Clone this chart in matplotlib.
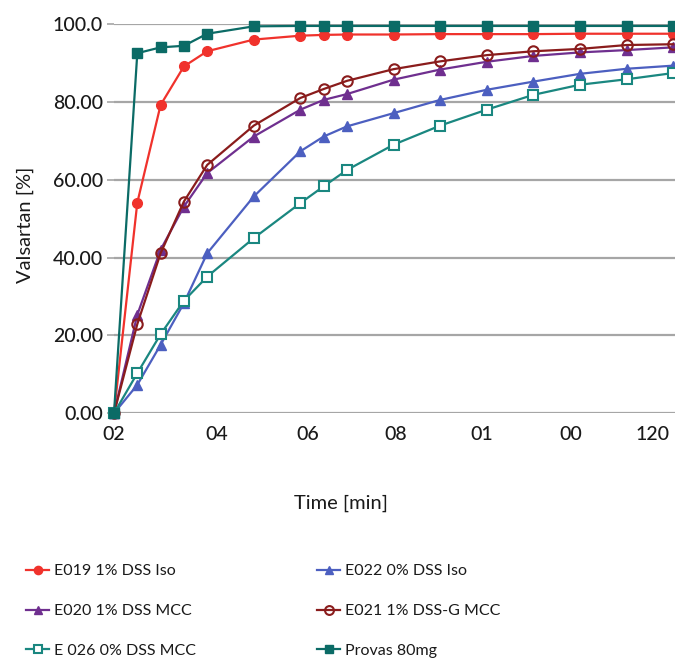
import matplotlib
matplotlib.use("Agg")
import matplotlib.pyplot as plt

time_min = [0, 5, 10, 15, 20, 30, 40, 45, 50, 60, 70, 80, 90, 100, 110, 120]

e019 = [0, 54.1, 79.2, 89.1, 93.0, 96.0, 97.0, 97.2, 97.3, 97.3, 97.4, 97.4, 97.4, 97.5, 97.5, 97.5]
e022 = [0, 7.3, 17.6, 28.3, 41.1, 55.7, 67.3, 71.1, 73.7, 77.1, 80.5, 83.1, 85.2, 87.2, 88.5, 89.3]
e020 = [0, 25.3, 42.0, 53.1, 61.7, 71.1, 78.0, 80.5, 82.0, 85.7, 88.3, 90.3, 91.8, 92.7, 93.3, 94.0]
e021 = [0, 22.9, 41.1, 54.4, 63.8, 73.9, 81.0, 83.3, 85.4, 88.4, 90.4, 92.0, 93.0, 93.6, 94.6, 94.8]
e026 = [0, 10.3, 20.3, 28.9, 35.1, 45.0, 54.0, 58.3, 62.5, 69.0, 73.9, 78.0, 81.8, 84.4, 85.8, 87.4]
provas = [0, 92.5, 94.0, 94.4, 97.5, 99.4, 99.5, 99.5, 99.5, 99.5, 99.5, 99.5, 99.5, 99.5, 99.5, 99.5]

series_labels = ["E019 1% DSS Iso", "E022 0% DSS Iso", "E020 1% DSS MCC",
                 "E021 1% DSS-G MCC", "E 026 0% DSS MCC", "Provas 80mg"]

y_ticks = [0, 20, 40, 60, 80, 100]
y_tick_labels = ["0.00", "20.00", "40.00", "60.00", "80.00", "100.0"]
x_tick_pos = [0, 22, 41.5, 60.5, 79, 98, 115.5]
x_tick_labels = ["02", "04", "06", "08", "01", "00", "120"]

FONT = ["Lato", "DejaVu Sans"]
plt.rcParams['font.family'] = FONT

W, H = 675, 658
fig = plt.figure(figsize=(W / 100, H / 100), dpi=100)
x0, x1 = 114, 675
y0, y1 = 413.3, 24
ax = fig.add_axes([x0 / W, 1 - y0 / H, (x1 - x0) / W, (y0 - y1) / H])

lw = 1.6
h_e019, = ax.plot(time_min, e019, color="#f0322c", marker="o", ms=7, lw=lw, clip_on=False, zorder=3)
h_e022, = ax.plot(time_min, e022, color="#4c5fc0", marker="^", ms=7, lw=lw, clip_on=False, zorder=3)
h_e020, = ax.plot(time_min, e020, color="#6f2f8f", marker="^", ms=7, lw=lw, clip_on=False, zorder=3)
h_e021, = ax.plot(time_min, e021, color="#8a1c1c", marker="o", ms=7.5, mfc="none", mew=1.5, lw=lw, clip_on=False, zorder=3)
h_e026, = ax.plot(time_min, e026, color="#1a8780", marker="s", ms=7, mfc="white", mew=1.5, lw=lw, clip_on=False, zorder=3)
h_prov, = ax.plot(time_min, provas, color="#0b6b66", marker="s", ms=7.2, lw=lw, clip_on=False, zorder=4)

ax.set_xlim(0, 120.4)
ax.set_ylim(0, 100)
for s in ax.spines.values():
    s.set_visible(False)
ax.yaxis.grid(True, color="#a6a6a6", lw=1.6)
ax.set_axisbelow(True)
ax.set_yticks(y_ticks)
ax.set_yticklabels(y_tick_labels, fontsize=14, color="#1a1a1a", fontweight="medium")
ax.tick_params(axis="y", length=5, width=1.2, color="#a6a6a6", pad=3)
ax.set_xticks(x_tick_pos)
ax.set_xticklabels(x_tick_labels, fontsize=14, color="#1a1a1a", fontweight="medium")
ax.tick_params(axis="x", length=0, pad=9)

fig.text(25 / W, 1 - 225 / H, "Valsartan [%]", rotation=90, ha="center", va="center",
         fontsize=14.5, color="#1a1a1a")
fig.text(341 / W, 1 - 503 / H, "Time [min]", ha="center", va="center",
         fontsize=14.5, color="#1a1a1a")

leg_kw = dict(loc="upper left", frameon=False, fontsize=11.5, handlelength=1.45,
              handletextpad=0.3, labelspacing=1.6, markerscale=0.85,
              borderpad=0.2, borderaxespad=0)
leg1 = fig.legend([h_e019, h_e020, h_e026],
                  [series_labels[0], series_labels[2], series_labels[4]],
                  bbox_to_anchor=(23 / W, 1 - 561 / H), **leg_kw)
leg2 = fig.legend([h_e022, h_e021, h_prov],
                  [series_labels[1], series_labels[3], series_labels[5]],
                  bbox_to_anchor=(314 / W, 1 - 561 / H), **leg_kw)
for lg in (leg1, leg2):
    for t in lg.get_texts():
        t.set_color("#1a1a1a")

fig.savefig("out.png", dpi=100)
